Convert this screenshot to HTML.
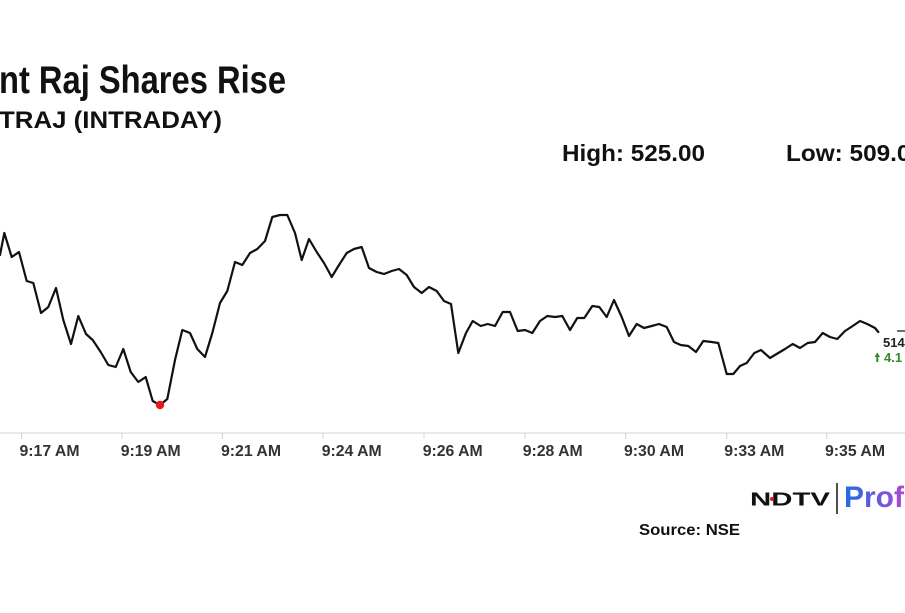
<!DOCTYPE html>
<html>
<head>
<meta charset="utf-8">
<style>
  html, body { margin:0; padding:0; background:#fff; }
  body { width:905px; height:613px; overflow:hidden; }
  svg { display:block; }
  text { font-family: "Liberation Sans", Arial, sans-serif; }
</style>
</head>
<body>
<svg width="905" height="613" viewBox="0 0 905 613" xmlns="http://www.w3.org/2000/svg">
  <defs>
    <linearGradient id="pg" x1="0" y1="0" x2="1" y2="0">
      <stop offset="0" stop-color="#1e6fe0"/>
      <stop offset="0.6" stop-color="#8a4fe0"/>
      <stop offset="1" stop-color="#e040c0"/>
    </linearGradient>
  </defs>
  <rect width="905" height="613" fill="#fff"/>

  <!-- Title -->
  <text x="-1" y="93" font-size="39" font-weight="bold" fill="#111" textLength="287" lengthAdjust="spacingAndGlyphs">nt Raj Shares Rise</text>
  <text x="-1" y="128" font-size="24" font-weight="bold" fill="#111" textLength="223" lengthAdjust="spacingAndGlyphs">TRAJ (INTRADAY)</text>

  <!-- High / Low -->
  <text x="562" y="161" font-size="23" font-weight="bold" fill="#111" textLength="143" lengthAdjust="spacingAndGlyphs">High: 525.00</text>
  <text x="786" y="161" font-size="23" font-weight="bold" fill="#111" textLength="138" lengthAdjust="spacingAndGlyphs">Low: 509.00</text>

  <!-- Axis -->
  <line x1="0" y1="433" x2="905" y2="433" stroke="#dcdcdc" stroke-width="1.2"/>
  <g stroke="#d4d4d4" stroke-width="1">
    <line x1="21.5" y1="433" x2="21.5" y2="439"/>
    <line x1="122" y1="433" x2="122" y2="439"/>
    <line x1="222.5" y1="433" x2="222.5" y2="439"/>
    <line x1="323" y1="433" x2="323" y2="439"/>
    <line x1="424" y1="433" x2="424" y2="439"/>
    <line x1="525" y1="433" x2="525" y2="439"/>
    <line x1="625.7" y1="433" x2="625.7" y2="439"/>
    <line x1="726.7" y1="433" x2="726.7" y2="439"/>
    <line x1="826.7" y1="433" x2="826.7" y2="439"/>
  </g>
  <g font-size="16" font-weight="bold" fill="#333">
    <text x="19.5" y="456" textLength="60" lengthAdjust="spacingAndGlyphs">9:17 AM</text>
    <text x="120.7" y="456" textLength="60" lengthAdjust="spacingAndGlyphs">9:19 AM</text>
    <text x="221" y="456" textLength="60" lengthAdjust="spacingAndGlyphs">9:21 AM</text>
    <text x="321.7" y="456" textLength="60" lengthAdjust="spacingAndGlyphs">9:24 AM</text>
    <text x="422.7" y="456" textLength="60" lengthAdjust="spacingAndGlyphs">9:26 AM</text>
    <text x="522.7" y="456" textLength="60" lengthAdjust="spacingAndGlyphs">9:28 AM</text>
    <text x="624" y="456" textLength="60" lengthAdjust="spacingAndGlyphs">9:30 AM</text>
    <text x="724.3" y="456" textLength="60" lengthAdjust="spacingAndGlyphs">9:33 AM</text>
    <text x="825" y="456" textLength="60" lengthAdjust="spacingAndGlyphs">9:35 AM</text>
  </g>

  <!-- Series -->
  <polyline fill="none" stroke="#111" stroke-width="2.2" stroke-linejoin="round" stroke-linecap="round"
    points="0,255 4.3,233 11.7,257 19,252 26.7,281 33.3,283 41,313 48.3,307 56,288 63.3,320 71,344 78.3,316 86,334 92.7,340 100.7,352 108.3,365 115.7,367 123.3,349 130.7,372 138.3,382 145.7,377 152.7,401 160,405 167.3,399 175,360 182.3,330 190,333 197.3,349 205,357 212.3,333 220,303 227.3,291 235,262 242.3,265 250,253 257.3,249 265,241 272.3,217 280,215 287.3,215 295,233 301.7,260 309,239 316.7,252 324,263 331.7,277 339,265 346.7,253 354,249 361.7,247 369,268 376.7,272 384,274 391.7,271 399,269 406.7,275 414,287 421.7,293 429,287 436.7,291 444,301 451,304 458.3,353 466,333 472.7,321 480.7,326 487.7,324 495,326 502.7,312 510,312 517.7,331 525,330 532.3,333 540,321 547.3,316 555,317 562.3,316 570,330 577.3,318 584.3,318 592.3,306 599.3,307 606.7,317 614,300 621.7,317 629,336 636.7,324 644,328 651.7,326 659,324 666.7,327 674,342 680.7,345 688.3,346 696,352 703.3,341 711.7,342 718.3,343 726.7,374 733.3,374 740,366 746.7,363 754.3,353 761,350 770,358 778.3,353 785,349 792.7,344 800,348 807.7,343 815,342 822.7,333 830,337 837.3,339 845,331 852.7,326 860,321 867.3,324 875,328 878.3,332"/>
  <circle cx="160" cy="405" r="4.2" fill="#e8181b"/>

  <!-- Last value label -->
  <line x1="897" y1="331" x2="905" y2="331" stroke="#111" stroke-width="1.2"/>
  <text x="883" y="347" font-size="13" font-weight="bold" fill="#222">514</text>
  <g fill="#2e8b2e">
    <rect x="876.3" y="355" width="2" height="7"/>
    <polygon points="874.5,357 877.3,352.5 880.1,357"/>
  </g>
  <text x="884" y="362" font-size="13" font-weight="bold" fill="#2e8b2e">4.1</text>

  <!-- Logo -->
  <text x="750" y="505.5" font-size="18" font-weight="900" fill="#111" textLength="80" lengthAdjust="spacingAndGlyphs">NDTV</text>
  <circle cx="772" cy="499" r="2" fill="#e8181b"/>
  <line x1="837" y1="483" x2="837" y2="514" stroke="#222" stroke-width="1.6"/>
  <text x="844" y="507" font-size="30" font-weight="bold" fill="url(#pg)">Profit</text>

  <!-- Source -->
  <text x="639" y="535" font-size="16" font-weight="bold" fill="#111" textLength="101" lengthAdjust="spacingAndGlyphs">Source: NSE</text>
</svg>
</body>
</html>
